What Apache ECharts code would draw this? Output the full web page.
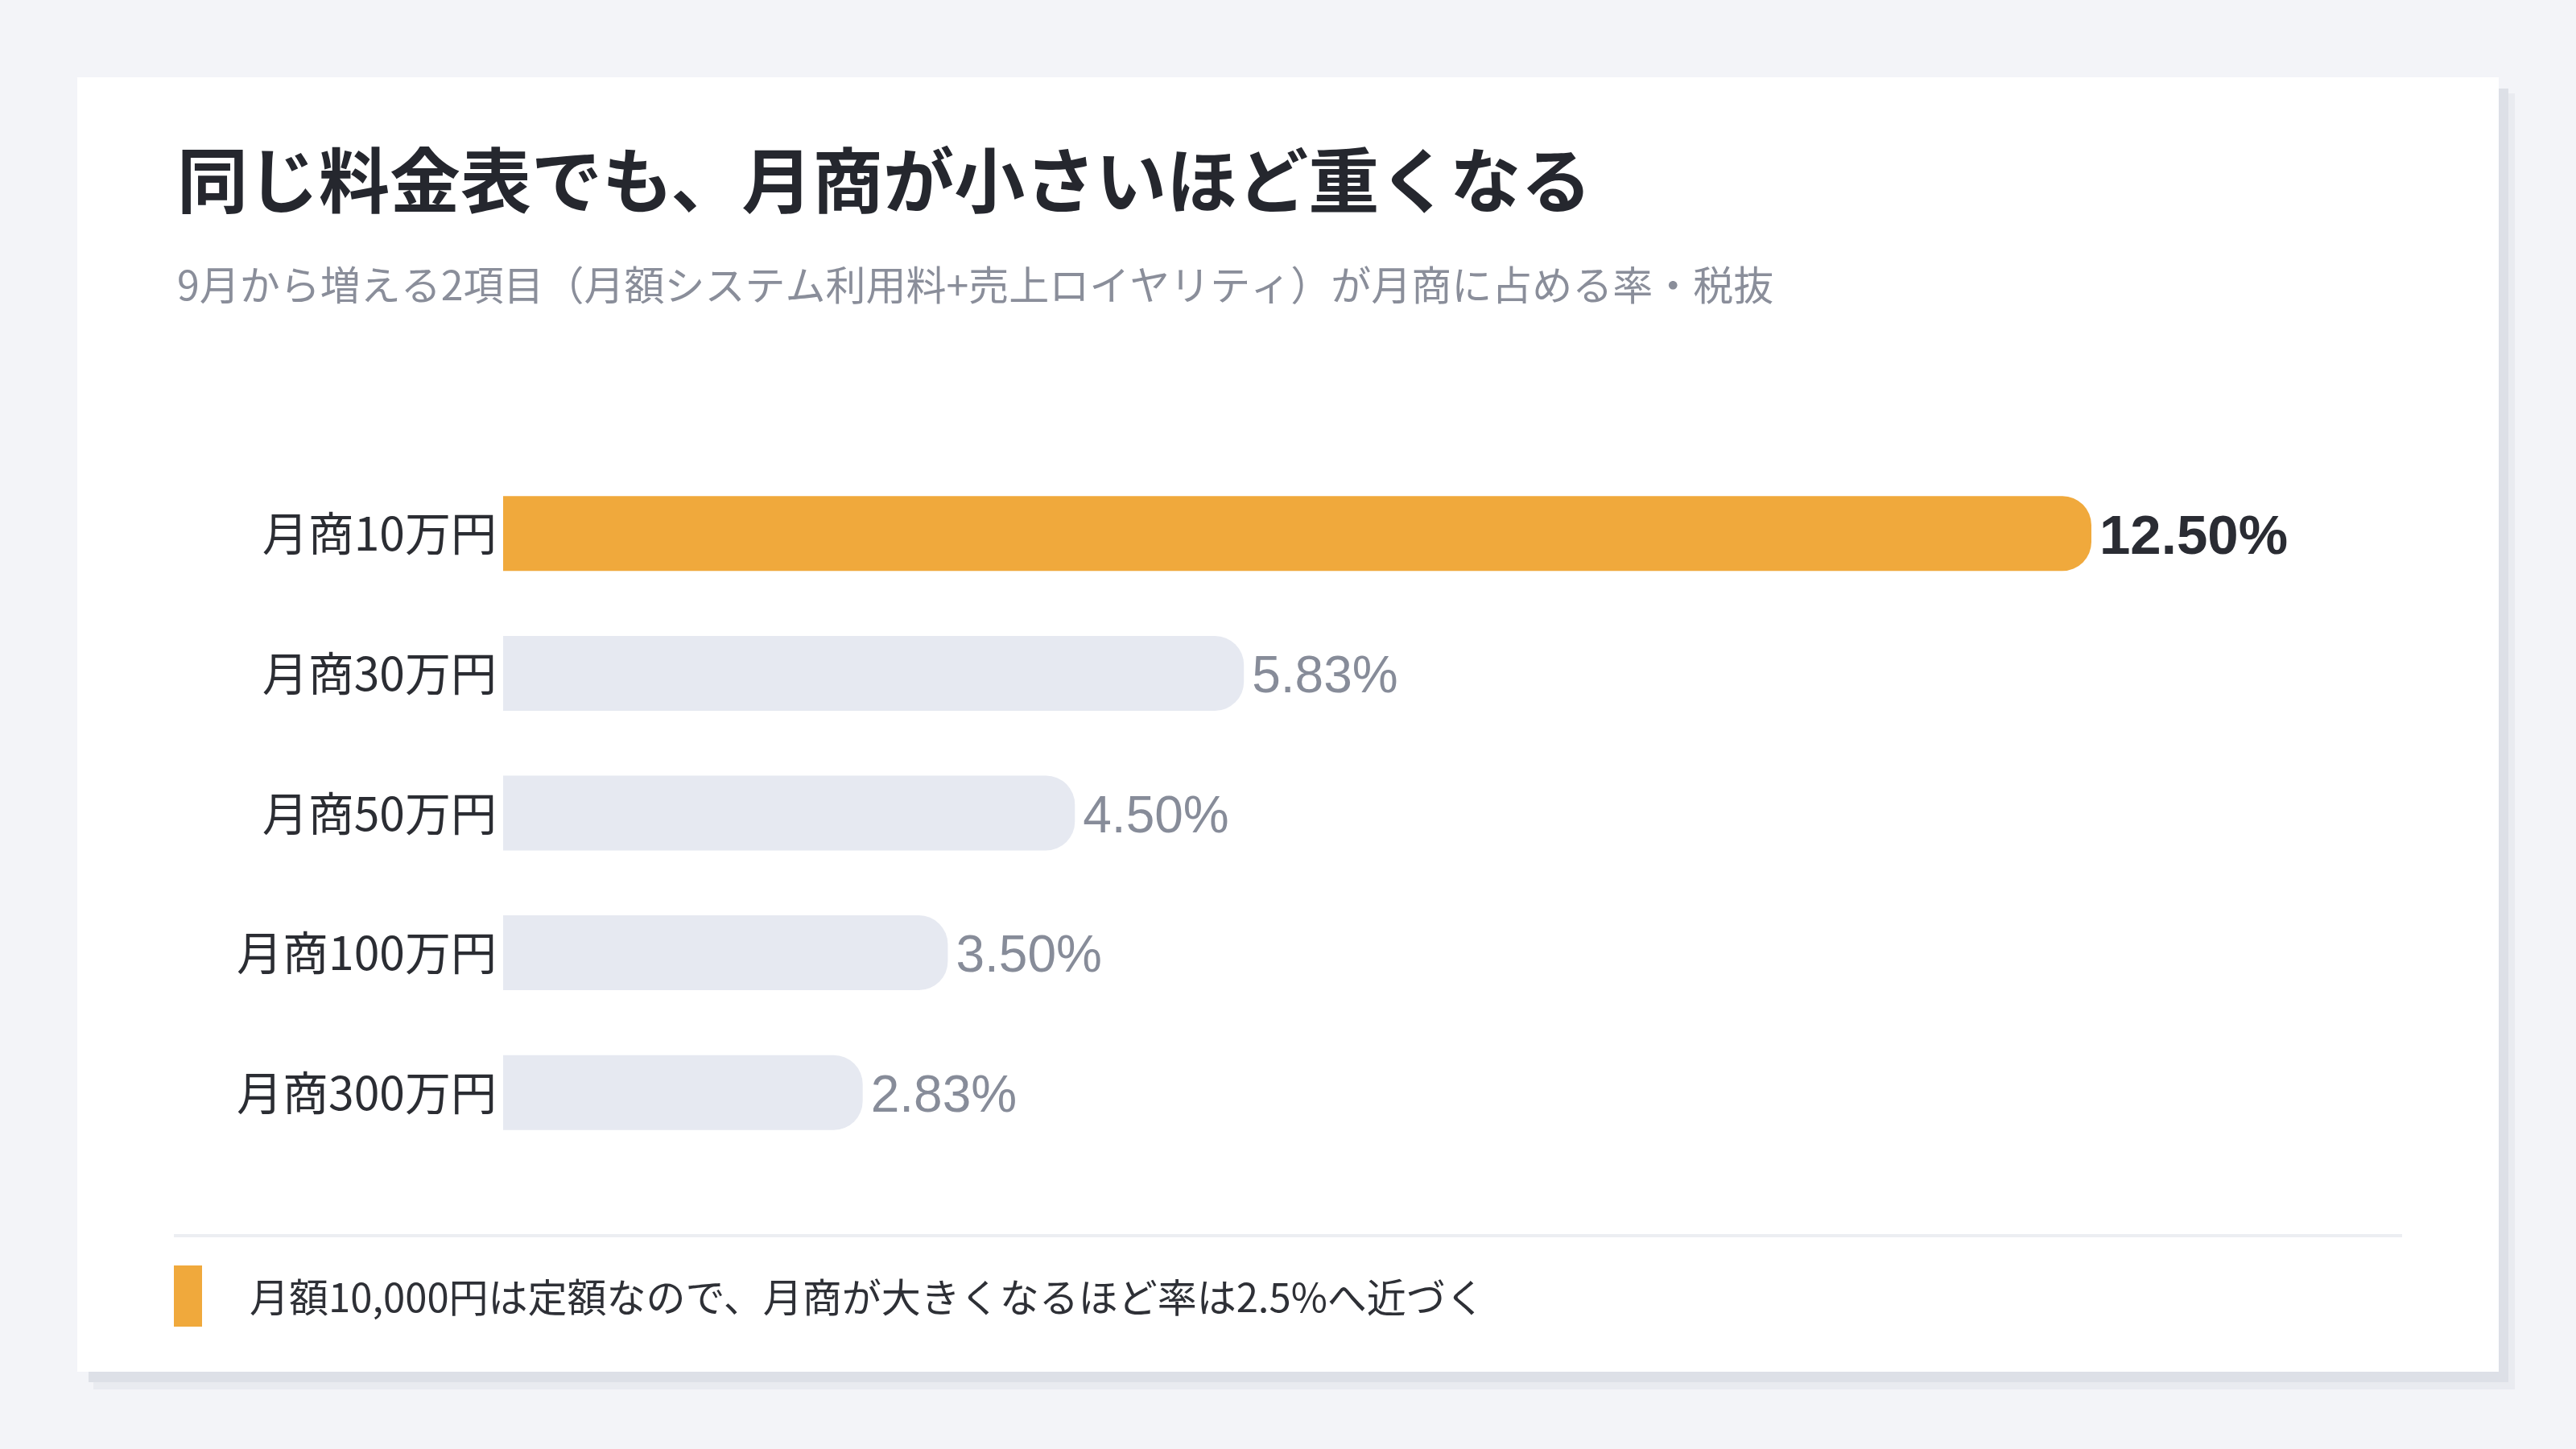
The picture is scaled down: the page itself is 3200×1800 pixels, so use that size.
<!DOCTYPE html>
<html>
<head>
<meta charset="utf-8">
<script src="https://cdn.jsdelivr.net/npm/echarts@6/dist/echarts.min.js"></script>
<style>
  html, body { margin: 0; padding: 0; background: #f3f4f8; }
  #chart { width: 3200px; height: 1800px; }
</style>
</head>
<body>
<div id="chart"></div>
<script>
const categories = ['月商10万円', '月商30万円', '月商50万円', '月商100万円', '月商300万円']
const rates = [12.5, 5.83, 4.5, 3.5, 2.83]

const titleText = '同じ料金表でも、月商が小さいほど重くなる'
const subText = '9月から増える2項目（月額システム利用料+売上ロイヤリティ）が月商に占める率・税抜'
const noteText = '月額10,000円は定額なので、月商が大きくなるほど率は2.5%へ近づく'

const ORANGE = '#f0a93c'
const GREY = '#e6e9f1'
const JP = '"Noto Sans CJK JP", "Noto Sans", sans-serif'
const NUM = '"Liberation Sans", "Noto Sans CJK JP", sans-serif'

const chart = echarts.init(document.getElementById('chart'))

// highlight the first row (smallest revenue)
const seriesData = rates.map((v, i) => {
  const top = i === 0
  return {
    value: v,
    itemStyle: { color: top ? ORANGE : GREY },
    label: {
      color: top ? '#2a2c33' : '#878c99',
      fontWeight: top ? 'bold' : 'normal',
      fontSize: top ? 69 : 64
    }
  }
})

const option = {
  backgroundColor: '#f3f4f8',
  animation: false,
  graphic: [
    // card shadow
    { type: 'rect', z: -3, shape: { x: 116, y: 116, width: 3008, height: 1610 }, style: { fill: '#e9ebf0' } },
    { type: 'rect', z: -2, shape: { x: 110, y: 110, width: 3006, height: 1607 }, style: { fill: '#dde0e7' } },
    { type: 'rect', z: -1, shape: { x: 96, y: 96, width: 3008, height: 1608 }, style: { fill: '#ffffff' } },
    {
      type: 'text', x: 220, y: 224,
      style: { text: titleText, font: 'bold 88px ' + JP, fill: '#25272e', textVerticalAlign: 'middle', verticalAlign: 'middle' }
    },
    {
      type: 'text', x: 220, y: 354,
      style: { text: subText, font: '50px ' + JP, fill: '#8a8e9a', textVerticalAlign: 'middle', verticalAlign: 'middle' }
    },
    // divider + note
    { type: 'rect', shape: { x: 216, y: 1533, width: 2768, height: 4 }, style: { fill: '#eceef2' } },
    { type: 'rect', shape: { x: 216, y: 1572, width: 35, height: 76 }, style: { fill: ORANGE } },
    {
      type: 'text', x: 310, y: 1611,
      style: { text: noteText, font: '49px ' + JP, fill: '#2e3036', textVerticalAlign: 'middle', verticalAlign: 'middle' }
    }
  ],
  grid: {
    left: 625,
    right: 602,
    top: 576,
    bottom: 356,
    containLabel: false
  },
  xAxis: {
    type: 'value',
    min: 0,
    max: 12.5,
    show: false
  },
  yAxis: {
    type: 'category',
    data: categories,
    inverse: true,
    axisLine: { show: false },
    axisTick: { show: false },
    axisLabel: {
      margin: 8,
      fontSize: 57,
      fontFamily: JP,
      color: '#2b2d33'
    }
  },
  series: [
    {
      type: 'bar',
      data: seriesData,
      barWidth: 93,
      itemStyle: { borderRadius: [0, 36, 36, 0] },
      label: {
        show: true,
        position: 'right',
        distance: 10,
        offset: [0, 6],
        fontSize: 64,
        fontFamily: NUM,
        formatter: p => p.value.toFixed(2) + '%'
      }
    }
  ]
}

chart.setOption(option)
</script>
</body>
</html>
